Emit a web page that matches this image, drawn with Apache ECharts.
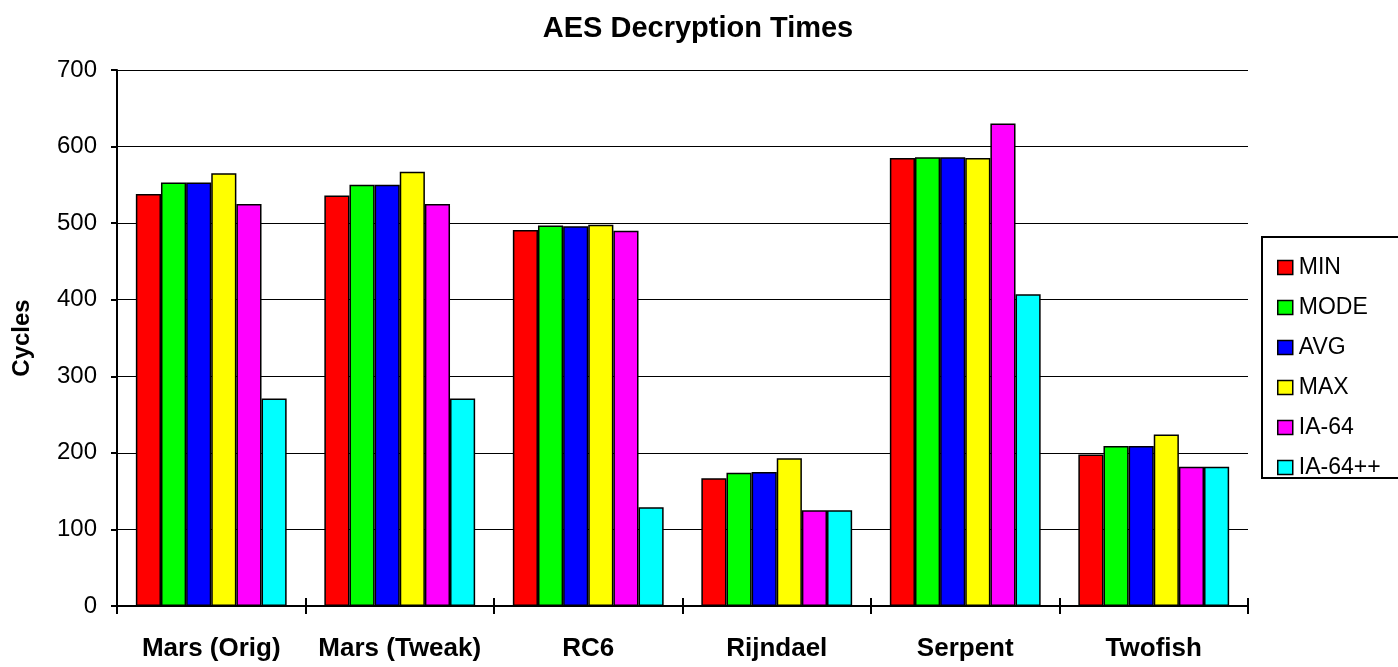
<!DOCTYPE html>
<html>
<head>
<meta charset="utf-8">
<script src="https://cdn.jsdelivr.net/npm/echarts@6/dist/echarts.min.js"></script>
<style>
html,body{margin:0;padding:0;background:#fff;}
#chart{width:1398px;height:667px;}
</style>
</head>
<body>
<div id="chart"></div>
<script>
const categories = ['Mars (Orig)', 'Mars (Tweak)', 'RC6', 'Rijndael', 'Serpent', 'Twofish'];
const seriesNames = ['MIN', 'MODE', 'AVG', 'MAX', 'IA-64', 'IA-64++'];
const seriesColors = ['#ff0000', '#00ff00', '#0000ff', '#ffff00', '#ff00ff', '#00ffff'];
const minVals   = [538, 536, 491, 167, 585, 198];
const modeVals  = [553, 550, 497, 174, 586, 209];
const avgVals   = [553, 550, 496, 175, 586, 209];
const maxVals   = [565, 567, 498, 193, 585, 224];
const ia64Vals  = [525, 525, 490, 125, 630, 182];
const ia64ppVals = [271, 271, 129, 125, 407, 182];
const yTicks = { min: 0, max: 700, interval: 100 };

const allValues = [minVals, modeVals, avgVals, maxVals, ia64Vals, ia64ppVals];
const FONT = '"Liberation Sans", Arial, sans-serif';

const chart = echarts.init(document.getElementById('chart'), null, { renderer: 'canvas' });
chart.setOption({
  animation: false,
  backgroundColor: '#ffffff',
  title: {
    text: 'AES Decryption Times',
    left: 693, top: 9, textAlign: 'center',
    textStyle: { fontFamily: FONT, fontSize: 29, fontWeight: 'bold', color: '#000' }
  },
  grid: { left: 117, right: 150, top: 70, bottom: 61, containLabel: false, outerBoundsMode: 'none' },
  legend: {
    orient: 'vertical',
    left: 1272, top: 251,
    itemWidth: 15, itemHeight: 14, itemGap: 17,
    icon: 'rect',
    data: seriesNames,
    textStyle: { fontFamily: FONT, fontSize: 23, color: '#000', padding: [0, 0, 0, 1] },
    itemStyle: { borderColor: '#000', borderWidth: 1.5 }
  },
  graphic: [{
    type: 'rect',
    shape: { x: 1262, y: 237, width: 140, height: 241 },
    style: { fill: 'none', stroke: '#000', lineWidth: 2 },
    z: 10
  }],
  xAxis: [{
    type: 'category',
    data: categories,
    axisLine: { lineStyle: { color: '#000', width: 2 } },
    axisTick: { show: true, length: 8, lineStyle: { color: '#000', width: 2 } },
    axisLabel: { interval: 0, margin: 30, fontFamily: FONT, fontSize: 26, fontWeight: 'bold', color: '#000' },
    splitLine: { show: false }
  }, {
    type: 'category',
    data: categories,
    position: 'bottom',
    axisLine: { show: false },
    axisTick: { show: true, inside: true, length: 8, lineStyle: { color: '#000', width: 2 } },
    axisLabel: { show: false },
    splitLine: { show: false }
  }],
  yAxis: {
    type: 'value',
    min: yTicks.min, max: yTicks.max, interval: yTicks.interval,
    name: 'Cycles',
    nameLocation: 'middle',
    nameRotate: 90,
    nameGap: 83,
    nameTextStyle: { fontFamily: FONT, fontSize: 24, fontWeight: 'bold', color: '#000' },
    axisLine: { show: true, lineStyle: { color: '#000', width: 2 } },
    axisTick: { show: true, length: 6, lineStyle: { color: '#000', width: 2 } },
    axisLabel: { margin: 20, fontFamily: FONT, fontSize: 24, color: '#000' },
    splitLine: { show: true, lineStyle: { color: '#000', width: 1.2 } }
  },
  series: seriesNames.map((name, i) => ({
    name: name,
    type: 'bar',
    xAxisIndex: 0,
    data: allValues[i],
    barGap: '0%',
    barCategoryGap: '20%',
    itemStyle: { color: seriesColors[i], borderColor: '#000', borderWidth: 1.5 }
  }))
});
</script>
</body>
</html>
